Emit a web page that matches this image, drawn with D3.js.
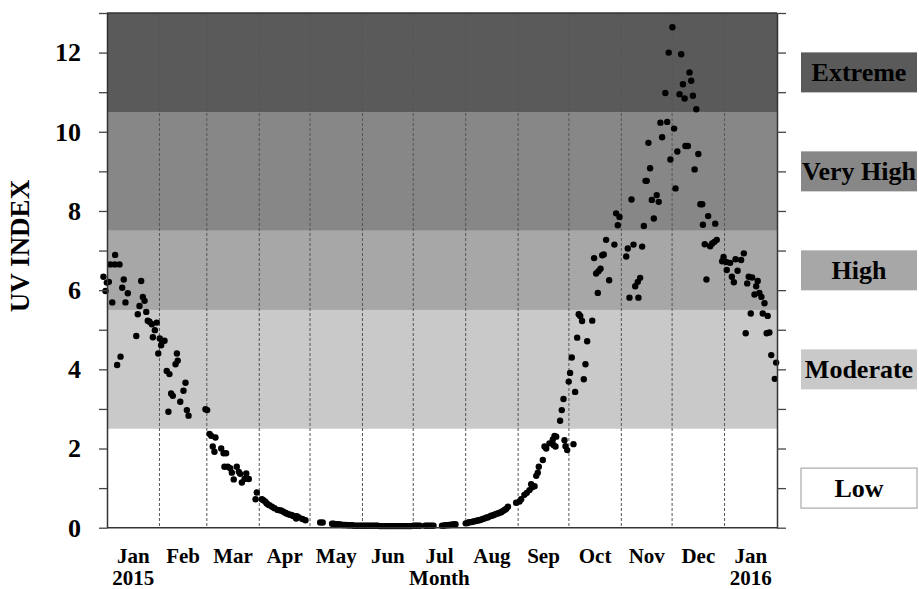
<!DOCTYPE html>
<html>
<head>
<meta charset="utf-8">
<script src="https://cdn.jsdelivr.net/npm/d3@7"></script>
<style>
  body { margin: 0; background: #fff; }
  text { font-family: "Liberation Serif", "Times New Roman", serif; font-weight: bold; fill: #000; }
</style>
</head>
<body>
<svg id="chart" width="919" height="589"></svg>
<script>
// observations: [day since 1 Jan 2015, UV index]
var obsJan = [[-2.1,6.34],[-0.9,5.98],[-0.1,6.19],[1.1,6.21],[1.9,6.65],[3.1,5.69],[4.6,6.65],[4.8,6.89],
  [6.0,4.11],[7.4,6.65],[8.0,4.32],[9.0,6.06],[9.9,6.27],[10.9,5.69],[12.3,5.92],[17.3,4.84],[18.2,5.39],
  [19.2,5.60],[20.2,6.23],[21.2,5.83],[22.2,5.73],[23.2,5.45],[24.1,5.23],[25.1,5.20],[26.5,5.14],
  [27.1,4.81],[28.3,4.99],[29.4,5.18],[30.3,4.40]];
var obsFeb = [[31.2,4.78],[32.0,4.61],[32.6,4.70],[34.0,4.72],[35.3,3.96],[36.3,2.93],[36.9,3.88],
  [37.9,3.39],[38.9,3.33],[40.5,4.13],[41.3,4.40],[41.8,4.22],[43.3,3.18],[45.2,3.46],[46.4,3.66],
  [47.2,2.97],[48.2,2.83],[58.2,2.99],[59.2,2.97]];
var obsMarApr = [[60.6,2.37],[61.6,2.32],[62.5,2.05],[63.5,1.92],[64.1,2.28],[67.5,2.00],[68.9,1.88],
  [69.4,1.54],[70.4,1.88],[71.4,1.54],[72.8,1.50],[73.8,1.39],[74.9,1.22],[76.7,1.54],[77.9,1.41],
  [78.7,1.36],[79.7,1.14],[81.3,1.23],[82.3,1.37],[83.8,1.23],[87.8,0.72],[88.5,0.89],
  [91.5,0.72],[92.2,0.70],[93.5,0.66],[94.3,0.62],[95.0,0.59],[96.0,0.57],[97.5,0.53],[99.0,0.49],
  [100.9,0.45],[102.0,0.44],[103.3,0.43],[104.3,0.40],[105.3,0.38],[106.1,0.36],[106.9,0.35],
  [107.9,0.33],[108.9,0.32],[109.9,0.30],[110.8,0.28],[111.8,0.23],[112.2,0.29],[113.4,0.26],
  [115.5,0.22],[117.3,0.19]];
var obsWinter = [[126.0,0.13],[127.5,0.13],
  [133,0.10],[134,0.10],[135,0.09],[136,0.09],[137,0.08],[138,0.08],[139,0.07],[140,0.07],[141,0.07],
  [142,0.06],[143,0.06],[144,0.06],[145,0.06],[146,0.05],[147,0.05],[148,0.05],[149,0.05],[150,0.05],
  [151,0.05],[152,0.05],[153,0.05],[154,0.05],[155,0.05],[156,0.05],[157,0.05],[158,0.05],[159,0.05],
  [160,0.05],[161,0.04],[162,0.04],[163,0.04],[164,0.04],[165,0.04],[166,0.04],[167,0.04],[168,0.04],
  [169,0.04],[170,0.04],[171,0.04],[172,0.04],[173,0.04],[174,0.04],[175,0.04],[176,0.04],
  [177,0.04],[178,0.04],[179,0.04],[180,0.04],[181,0.05],[182,0.05],[183,0.05],[184,0.05],[185,0.05],
  [188,0.05],[189,0.05],[190,0.05],[191,0.05],[192,0.05],[193,0.05],
  [198,0.05],[199,0.05],[200,0.06],[201,0.06],[202,0.07],[203,0.07],[204,0.08],[205,0.08],[206,0.09]];
var obsAugSep = [[212,0.11],[213,0.12],[214,0.14],[215,0.14],[216,0.15],[217,0.16],[218,0.17],[219,0.18],
  [220,0.19],[221,0.20],[222,0.22],[223,0.23],[224,0.25],[225,0.26],[226,0.28],[227,0.30],[228,0.31],
  [229,0.33],[230,0.35],[231,0.36],[232,0.38],[233,0.39],[234,0.42],[235,0.45],[236,0.48],[237,0.53],
  [241.8,0.63],[243.8,0.66],[244.8,0.72],[246.7,0.83],[248.1,0.88],[249.7,0.95],[250.7,1.10],
  [251.3,1.02],[252.7,1.05],[253.7,1.31],[254.6,1.39],[255.2,1.54],[257.6,1.71],[258.6,2.05],
  [259.6,2.00],[261.5,2.13],[263.5,2.23],[263.9,2.09],[264.5,2.32],[265.1,2.05],[265.5,2.30],
  [267.8,2.70],[268.8,2.97],[269.8,3.25],[270.4,2.21],[271.0,2.06],[272.0,1.96],[272.9,3.69]];
var obsOctNov = [[273.7,3.91],[274.7,4.30],[275.7,2.11],[276.7,3.43],[277.9,4.80],[278.8,5.39],
  [279.7,5.35],[280.8,5.22],[281.8,3.75],[282.8,4.13],[283.8,4.71],[286.8,5.23],[287.9,6.81],
  [289.1,6.42],[290.1,5.93],[290.5,6.48],[291.7,6.54],[292.7,6.88],[293.6,6.90],[295.0,7.27],
  [296.8,6.25],[299.9,7.15],[300.9,7.94],[301.9,7.64],[302.9,7.85],
  [306.9,6.85],[307.8,7.05],[308.8,5.81],[310.0,8.29],[311.2,7.15],[312.2,6.10],[313.7,6.21],
  [314.1,5.81],[315.1,6.31],[316.3,7.10],[317.3,7.62],[318.3,8.76],[319.0,8.76],[320.0,9.72],
  [321.0,9.08],[322.0,8.28],[323.2,7.81],[324.9,8.40],[326.1,8.23],[327.1,10.23],[328.1,9.86],
  [330.0,10.98],[331.1,10.25],[332.0,12.00],[333.0,9.30]];
var obsDecJan = [[334.2,12.64],[335.2,10.08],[336.0,8.57],[337.1,9.50],[338.4,10.95],[339.4,11.96],
  [340.4,11.20],[341.4,10.84],[341.9,9.64],[343.3,9.64],[344.3,11.50],[345.3,11.29],[346.3,10.91],
  [347.3,9.05],[348.3,10.57],[349.5,9.44],[350.7,8.17],[351.8,8.17],[352.2,7.65],[353.3,7.16],
  [354.3,6.27],[355.3,7.87],[356.5,7.11],[357.7,7.18],[359.0,7.22],[359.5,7.68],[360.4,7.27],
  [363.6,6.73],[364.4,6.84],[366.0,6.71],[366.3,6.51],[368.3,6.69],[369.3,6.34],[370.5,6.20],
  [371.5,6.78],[372.7,6.49],[374.8,6.76],[376.4,6.93],[377.5,4.91],[378.4,6.17],[379.3,6.34],
  [380.5,5.41],[381.3,6.32],[382.7,5.89],[383.7,6.10],[384.6,6.23],[385.6,5.93],[386.8,5.83],
  [387.6,5.41],[388.6,5.67],[389.9,4.91],[390.5,5.35],[391.5,4.93],[392.6,4.36],[394.7,3.76],
  [395.5,4.17]];

var monthLabels = ["Jan","Feb","Mar","Apr","May","Jun","Jul","Aug","Sep","Oct","Nov","Dec","Jan"];
var yearLabels = ["2015","2016"];
var bandNames = ["Low","Moderate","High","Very High","Extreme"];
var bandEdges = [0, 2.5, 5.5, 7.5, 10.5, 13];
var yTicks = [0,1,2,3,4,5,6,7,8,9,10,11,12,13];

var bandColors = ["#ffffff","#c9c9c9","#a7a7a7","#878787","#5a5a5a"];
var legendAt = [1, 4, 6.5, 9, 11.5]; // legend box centres, in uv units

var start = new Date(Date.UTC(2015, 0, 1));
var end = new Date(Date.UTC(2016, 1, 1));
var data = [].concat(obsJan, obsFeb, obsMarApr, obsWinter, obsAugSep, obsOctNov, obsDecJan)
  .map(function(d){ return { date: new Date(start.getTime() + d[0]*864e5), uv: d[1] }; });

var svg = d3.select("#chart");
var plotLeft = 107, plotRight = 777, plotTop = 13, plotBottom = 527.7;

var x = d3.scaleUtc().domain([start, end]).range([plotLeft, plotRight]);
var y = d3.scaleLinear().domain([0, 13]).range([plotBottom, plotTop]);

// uv bands
svg.append("g").selectAll("rect")
  .data(bandNames)
  .enter().append("rect")
  .attr("x", plotLeft)
  .attr("width", plotRight - plotLeft)
  .attr("y", function(d, i){ return y(bandEdges[i+1]); })
  .attr("height", function(d, i){ return y(bandEdges[i]) - y(bandEdges[i+1]); })
  .attr("fill", function(d, i){ return bandColors[i]; });

// month separators
var months = d3.utcMonths(new Date(Date.UTC(2015, 1, 1)), end);
svg.append("g").selectAll("line")
  .data(months)
  .enter().append("line")
  .attr("x1", function(d){ return x(d); })
  .attr("x2", function(d){ return x(d); })
  .attr("y1", plotTop)
  .attr("y2", plotBottom)
  .attr("stroke", "#555")
  .attr("stroke-width", 1)
  .attr("stroke-dasharray", "3,2");

// points
svg.append("g").selectAll("circle")
  .data(data)
  .enter().append("circle")
  .attr("cx", function(d){ return x(d.date); })
  .attr("cy", function(d){ return y(d.uv); })
  .attr("r", 3.2)
  .attr("fill", "#000");

// axes
var yAxis = d3.axisLeft(y)
  .tickValues(yTicks)
  .tickSize(8)
  .tickSizeOuter(0)
  .tickPadding(18)
  .tickFormat(function(d){ return (d % 2 === 0 && d <= 12) ? d : ""; });
var gy = svg.append("g").attr("transform", "translate(" + plotLeft + ",0)").call(yAxis);
gy.selectAll("text").style("font-size", "26px").style("font-family", "'Liberation Serif', serif").style("font-weight", "bold");

var gr = svg.append("g").attr("transform", "translate(" + plotRight + ",0)")
  .call(d3.axisRight(y).tickValues(yTicks).tickSize(9).tickSizeOuter(0).tickFormat(""));

[gy, gr].forEach(function(g){
  g.select(".domain").attr("stroke", "#333").attr("stroke-width", 1.5);
  g.selectAll(".tick line").attr("stroke", "#444").attr("stroke-width", 1.3);
});

svg.append("line").attr("x1", plotLeft).attr("x2", plotRight).attr("y1", plotTop).attr("y2", plotTop)
  .attr("stroke", "#333").attr("stroke-width", 1.5);
svg.append("line").attr("x1", plotLeft).attr("x2", plotRight).attr("y1", plotBottom).attr("y2", plotBottom)
  .attr("stroke", "#333").attr("stroke-width", 1.5);

// month labels
var monthStarts = d3.utcMonths(start, end);
function monthMid(i){ return (x(monthStarts[i]) + x(d3.utcMonth.offset(monthStarts[i], 1))) / 2; }

svg.append("g").selectAll("text")
  .data(monthLabels)
  .enter().append("text")
  .attr("x", function(d, i){ return monthMid(i); })
  .attr("y", 563)
  .attr("text-anchor", "middle")
  .style("font-size", "21px")
  .text(function(d){ return d; });

svg.append("text").attr("x", monthMid(0)).attr("y", 585).attr("text-anchor", "middle")
  .style("font-size", "21px").text(yearLabels[0]);
svg.append("text").attr("x", monthMid(12)).attr("y", 585).attr("text-anchor", "middle")
  .style("font-size", "21px").text(yearLabels[1]);
svg.append("text").attr("x", monthMid(6)).attr("y", 585).attr("text-anchor", "middle")
  .style("font-size", "21px").text("Month");

svg.append("text")
  .attr("transform", "translate(29,246) rotate(-90)")
  .attr("text-anchor", "middle")
  .style("font-size", "27px")
  .text("UV INDEX");

// legend
var legend = svg.append("g").selectAll("g")
  .data(bandNames)
  .enter().append("g")
  .attr("transform", function(d, i){ return "translate(801," + y(legendAt[i]) + ")"; });
legend.append("rect")
  .attr("x", 0).attr("y", -20)
  .attr("width", 116).attr("height", 40)
  .attr("fill", function(d, i){ return bandColors[i]; })
  .attr("stroke", function(d, i){ return i === 0 ? "#aaa" : "none"; })
  .attr("stroke-width", 1.2);
legend.append("text")
  .attr("x", 58).attr("y", 9)
  .attr("text-anchor", "middle")
  .style("font-size", "26px")
  .text(function(d){ return d; });
</script>
</body>
</html>
